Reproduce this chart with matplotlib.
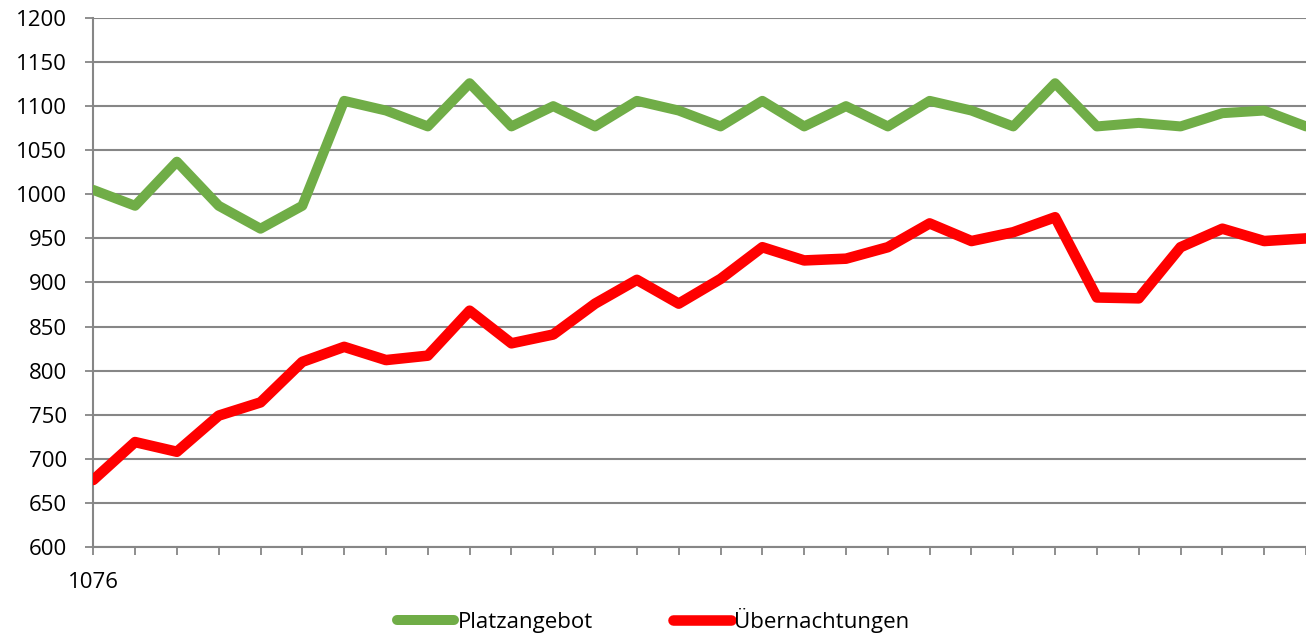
import matplotlib.pyplot as plt

# Werte
jahre = ['1076'] + [''] * 29
platzangebot = [1005, 987, 1037, 987, 961, 987, 1106, 1095, 1077, 1126,
                1077, 1100, 1077, 1106, 1095, 1077, 1106, 1077, 1100, 1077,
                1106, 1095, 1077, 1126, 1077, 1081, 1077, 1092, 1095, 1077]
uebernachtungen = [676, 719, 708, 749, 764, 810, 827, 812, 817, 868,
                   831, 841, 876, 903, 876, 904, 940, 925, 927, 940,
                   967, 947, 957, 974, 883, 882, 940, 961, 947, 950]

plt.rcParams['font.family'] = ['Open Sans', 'DejaVu Sans']
grau = '#868686'

fig = plt.figure(figsize=(13.06, 6.35), dpi=100)
ax = fig.add_axes([0.0714, 0.1386, 0.9286, 0.8331])

x = range(len(jahre))
ax.plot(x, platzangebot, color='#70AD47', lw=7.2, solid_joinstyle='round',
        solid_capstyle='round', label='Platzangebot', zorder=3)
ax.plot(x, uebernachtungen, color='#FF0000', lw=7.6, solid_joinstyle='round',
        solid_capstyle='round', label='Übernachtungen', zorder=3)

ax.set_ylim(600, 1200)
ax.set_yticks(range(600, 1201, 50))
ax.set_xlim(0, 28.67)
ax.set_xticks(list(x))
ax.set_xticklabels(jahre)

ax.grid(axis='y', color=grau, lw=1.5, zorder=0)
ax.set_axisbelow(True)
for s in ['top', 'right']:
    ax.spines[s].set_visible(False)
for s in ['left', 'bottom']:
    ax.spines[s].set_color(grau)
    ax.spines[s].set_linewidth(1.5)
ax.tick_params(axis='both', colors=grau, length=6, width=1.3,
               labelcolor='black', labelsize=16)
ax.tick_params(axis='y', pad=13)
ax.tick_params(axis='x', pad=12)

fig.legend(loc='lower center', bbox_to_anchor=(0.5, -0.028), ncol=2, frameon=False,
           fontsize=16, handlelength=2.6, handletextpad=0.15, columnspacing=3.6)

fig.savefig('out.png', dpi=100)
